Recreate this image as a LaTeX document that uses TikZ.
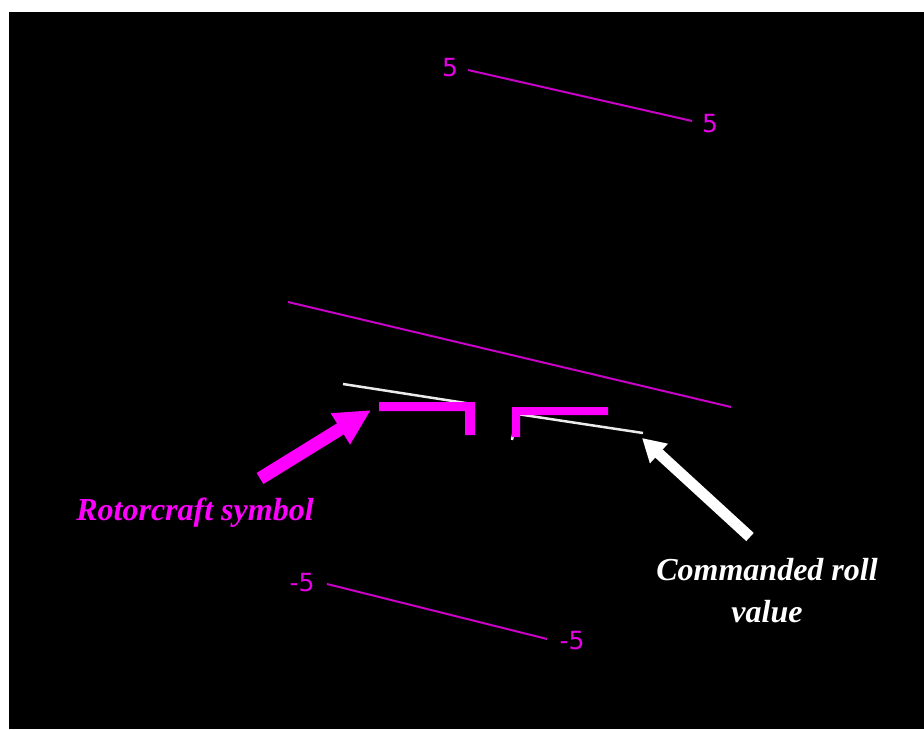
\documentclass[tikz,border=0pt]{standalone}
\usepackage{fontspec}
\setmainfont{Liberation Serif}
\newfontfamily\hudfont{DejaVu Sans}
\usetikzlibrary{arrows.meta}
\definecolor{hudmag}{RGB}{255,0,255}
\definecolor{hudline}{RGB}{200,0,200}
\definecolor{huddigit}{RGB}{230,0,230}
\definecolor{hudwhite}{RGB}{235,235,235}
\tikzset{
  pitchlabel/.style={text=huddigit, font=\hudfont\fontsize{25}{30}\selectfont, inner sep=0pt},
  pitchline/.style={draw=hudline, line width=2pt},
  cmdline/.style={draw=hudwhite, line width=2.5pt, line join=round},
  symbolpart/.style={fill=hudmag, draw=none},
  callout/.style={font=\bfseries\itshape\fontsize{32}{42}\selectfont, inner sep=0pt, align=center},
  magarrow/.style={draw=hudmag, line width=13pt, -{Triangle[length=36pt,width=34pt]}},
  whitearrow/.style={draw=white, line width=11pt, -{Triangle[length=23pt,width=25pt]}}
}
\begin{document}
\begin{tikzpicture}[x=1pt,y=-1pt]
\useasboundingbox (0,0) rectangle (924,729);
\fill[white] (0,0) rectangle (924,729);
\fill[black] (9,12) rectangle (924,729);

% pitch ladder
\node[pitchlabel] (p5l) at (450,68) {5};
\node[pitchlabel] (p5r) at (710,124) {5};
\coordinate (p5a) at (468,70);
\coordinate (p5b) at (692,121);
\draw[pitchline] (p5a) -- (p5b);

\node[pitchlabel] (m5l) at (302,583) {-5};
\node[pitchlabel] (m5r) at (572,641) {-5};
\coordinate (m5a) at (327,584);
\coordinate (m5b) at (547,639);
\draw[pitchline] (m5a) -- (m5b);

% horizon
\coordinate (hza) at (288,302);
\coordinate (hzb) at (731,407);
\draw[pitchline] (hza) -- (hzb);

% commanded roll (white)
\coordinate (cl1) at (343,384);
\coordinate (cl2) at (472,404);
\coordinate (cl3) at (467,432);
\coordinate (cr1) at (643,433);
\coordinate (cr2) at (517,414);
\coordinate (cr3) at (512,440);
\draw[cmdline] (cl1) -- (cl2) -- (cl3);
\draw[cmdline] (cr1) -- (cr2) -- (cr3);

% rotorcraft symbol
\fill[symbolpart] (379,402) -- (475,402) -- (475,435) -- (465,435) -- (465,411) -- (379,411) -- cycle;
\fill[symbolpart] (512,407) -- (608,407) -- (608,415) -- (520,415) -- (520,437) -- (512,437) -- cycle;

% callouts
\coordinate (ma) at (260,478.5);
\coordinate (mb) at (371,410);
\draw[magarrow] (ma) -- (mb);
\node[callout, text=hudmag, anchor=base] (rlab) at (195,520) {Rotorcraft symbol};

\coordinate (wa) at (750,537);
\coordinate (wb) at (642,438);
\draw[whitearrow] (wa) -- (wb);
\node[callout, text=white, anchor=base] (clab) at (767,622) {Commanded roll\\value};
\end{tikzpicture}
\end{document}
